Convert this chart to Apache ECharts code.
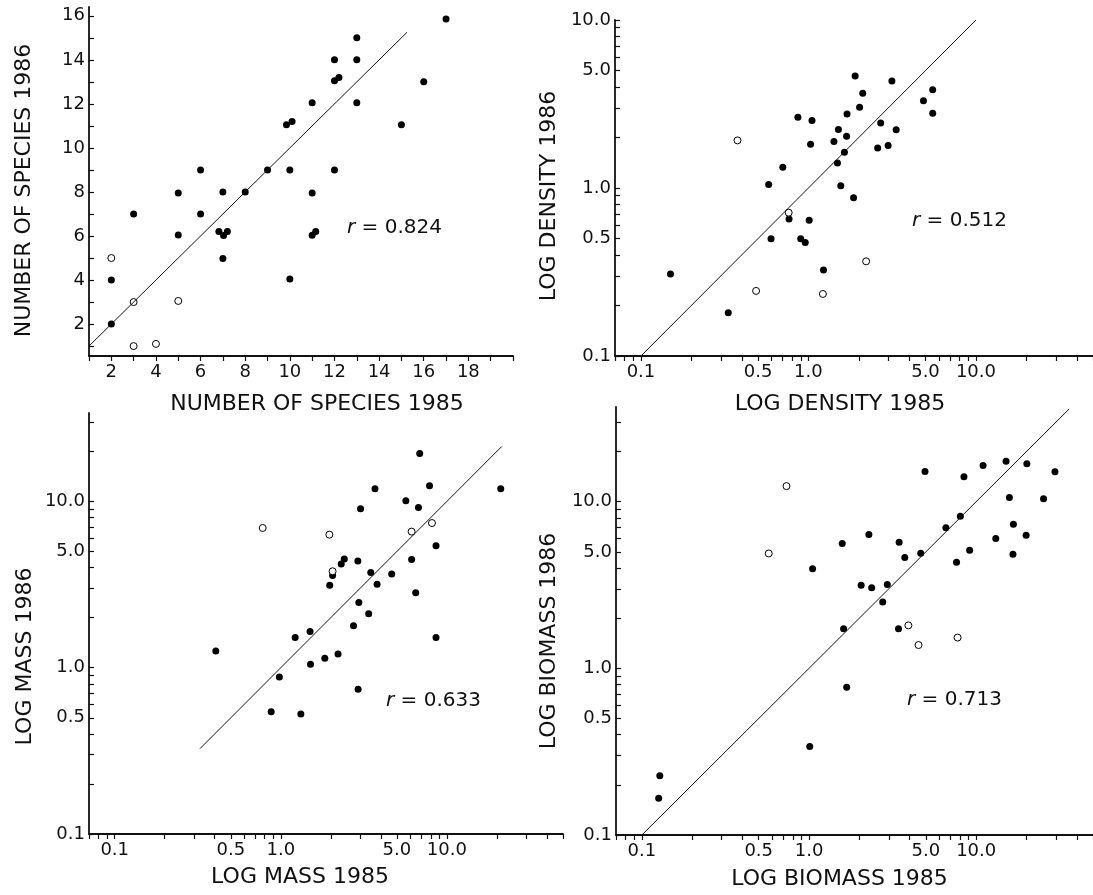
<!DOCTYPE html>
<html>
<head>
<meta charset="utf-8">
<title>1985 vs 1986: species, density, mass, biomass</title>
<script src="https://cdn.jsdelivr.net/npm/echarts@6/dist/echarts.min.js"></script>
<style>
  html, body { margin: 0; padding: 0; background: #fff; }
  #chart { width: 1093px; height: 895px; }
</style>
</head>
<body>
<div id="chart"></div>
<script>
// ---- data: [x = 1985, y = 1986] ----
var speciesFilled = [
  [17, 15.85], [13, 15], [13, 14], [12, 14], [12, 13.05], [12.2, 13.2], [16, 13],
  [11, 12.05], [13, 12.05], [9.85, 11.05], [10.1, 11.2], [15, 11.05],
  [6, 9], [9, 9], [10, 9], [12, 9], [5, 7.95], [7, 8], [8, 8], [11, 7.95],
  [3, 7], [6, 7], [5, 6.05], [6.82, 6.2], [7.2, 6.2], [7.03, 6.02], [7, 4.98],
  [11, 6.03], [11.16, 6.2], [10, 4.05], [2, 4], [2, 2]
];
var speciesOpen = [[2, 5], [3, 3], [5, 3.05], [3, 1], [4, 1.1]];
var speciesLine = [[1, 1], [15.25, 15.25]];

var densityFilled = [
  [0.150, 0.308], [0.332, 0.181], [0.579, 1.05], [0.598, 0.499], [0.703, 1.33],
  [0.766, 0.653], [0.865, 2.64], [0.899, 0.499], [0.957, 0.473], [1.01, 0.642],
  [1.03, 1.82], [1.05, 2.52], [1.23, 0.325], [1.42, 1.89], [1.49, 1.41],
  [1.51, 2.23], [1.56, 1.03], [1.64, 1.63], [1.69, 2.03], [1.70, 2.76],
  [1.86, 0.876], [1.90, 4.64], [2.02, 3.02], [2.11, 3.66], [2.59, 1.73],
  [2.70, 2.44], [2.99, 1.79], [3.15, 4.34], [3.34, 2.22], [4.86, 3.31],
  [5.52, 3.85], [5.52, 2.79]
];
var densityOpen = [[0.377, 1.92], [0.487, 0.244], [0.762, 0.713], [1.22, 0.234], [2.21, 0.366]];
var densityLine = [[0.1, 0.1], [10, 10]];

var massFilled = [
  [0.406, 1.26], [0.875, 0.544], [0.98, 0.879], [1.22, 1.52], [1.32, 0.526],
  [1.50, 1.65], [1.51, 1.05], [1.84, 1.14], [1.97, 3.13], [2.05, 3.59],
  [2.21, 1.21], [2.31, 4.20], [2.41, 4.50], [2.74, 1.79], [2.91, 4.38],
  [2.92, 0.741], [2.95, 2.47], [3.02, 9.04], [3.38, 2.11], [3.48, 3.73],
  [3.69, 11.9], [3.80, 3.18], [4.65, 3.66], [5.66, 10.1], [6.13, 4.48],
  [6.49, 2.82], [6.74, 9.2], [6.86, 19.4], [7.86, 12.4], [8.6, 5.41],
  [8.6, 1.52], [21.1, 11.9]
];
var massOpen = [[0.778, 6.92], [1.96, 6.31], [2.05, 3.80], [6.13, 6.58], [8.13, 7.41]];
var massLine = [[0.326, 0.326], [21.4, 21.4]];

var biomassFilled = [
  [0.128, 0.227], [0.126, 0.166], [1.01, 0.340], [1.05, 3.96], [1.58, 5.61],
  [1.61, 1.73], [1.68, 0.77], [2.05, 3.15], [2.28, 6.35], [2.37, 3.05],
  [2.76, 2.50], [2.94, 3.18], [3.43, 1.73], [3.46, 5.71], [3.74, 4.62],
  [4.66, 4.91], [4.94, 15.2], [6.59, 6.97], [7.63, 4.33], [8.04, 8.17],
  [8.45, 14.1], [9.14, 5.12], [11.0, 16.5], [13.1, 6.01], [15.1, 17.5],
  [15.8, 10.6], [16.6, 4.84], [16.7, 7.33], [19.9, 6.3], [20.1, 16.9],
  [25.3, 10.4], [29.6, 15.1]
];
var biomassOpen = [[0.574, 4.89], [0.733, 12.4], [3.93, 1.81], [4.52, 1.38], [7.74, 1.53]];
var biomassLine = [[0.1, 0.1], [36, 36]];

// ---- axis ticks and labels ----
var speciesTicksX = [1, 2, 3, 4, 5, 6, 7, 8, 9, 10, 11, 12, 13, 14, 15, 16, 17, 18, 19, 20];
var speciesLabelsX = [2, 4, 6, 8, 10, 12, 14, 16, 18];
var speciesTicksY = [1, 2, 3, 4, 5, 6, 7, 8, 9, 10, 11, 12, 13, 14, 15, 16];
var speciesLabelsY = [2, 4, 6, 8, 10, 12, 14, 16];
var logTicksX = [0.07, 0.08, 0.09, 0.1, 0.2, 0.3, 0.4, 0.5, 0.6, 0.7, 0.8, 0.9,
  1, 2, 3, 4, 5, 6, 7, 8, 9, 10, 20, 30, 40, 50];
var logTicksY = [0.1, 0.2, 0.3, 0.4, 0.5, 0.6, 0.7, 0.8, 0.9,
  1, 2, 3, 4, 5, 6, 7, 8, 9, 10, 20, 30];
var logLabels = [0.1, 0.5, 1, 5, 10];
var rValues = ['0.824', '0.512', '0.633', '0.713'];

var INK = '#111';
var FONT = '"DejaVu Sans", sans-serif';

var chart = echarts.init(document.getElementById('chart'), null, { renderer: 'canvas' });

function logFmt(v) { return Number(v).toFixed(1); }

function makeAxis(dim, type, grid, min, max, ticks, labels, name, nameGap, namePad, fmt) {
  var isX = dim === 'x';
  var ax = {
    type: type,
    gridIndex: grid,
    min: min,
    max: max,
    name: name,
    nameLocation: 'middle',
    nameGap: nameGap,
    nameTextStyle: { color: INK, fontSize: 22, fontFamily: FONT, padding: namePad },
    axisLine: { show: true, onZero: false, lineStyle: { color: INK, width: 1.8 } },
    axisTick: {
      show: true, inside: !isX, length: 5, customValues: ticks,
      lineStyle: { color: INK, width: 1.2 }
    },
    axisLabel: {
      customValues: labels, formatter: fmt, color: INK,
      fontSize: 18, fontFamily: FONT, margin: isX ? 7 : 4
    },
    splitLine: { show: false },
    minorTick: { show: false }
  };
  if (type === 'log') ax.logBase = 10;
  return ax;
}

function panelSeries(idx, filled, open, line) {
  return [
    {
      type: 'line', xAxisIndex: idx, yAxisIndex: idx, data: line,
      symbol: 'none', lineStyle: { color: INK, width: 1 }, silent: true
    },
    {
      type: 'scatter', xAxisIndex: idx, yAxisIndex: idx, data: filled,
      symbol: 'circle', symbolSize: 7, itemStyle: { color: '#000', opacity: 1 }, silent: true
    },
    {
      type: 'scatter', xAxisIndex: idx, yAxisIndex: idx, data: open,
      symbol: 'circle', symbolSize: 7,
      itemStyle: { color: '#fff', borderColor: '#000', borderWidth: 1, opacity: 1 }, silent: true
    }
  ];
}

var rPos = [[347, 230], [912, 223], [386, 703], [907, 702]];

var option = {
  backgroundColor: '#fff',
  animation: false,
  grid: [
    { left: 89, top: 7, width: 424, height: 349, outerBoundsMode: 'none' },
    { left: 615, top: 20, width: 478, height: 336, outerBoundsMode: 'none' },
    { left: 89, top: 413, width: 474, height: 421, outerBoundsMode: 'none' },
    { left: 616, top: 407, width: 477, height: 428, outerBoundsMode: 'none' }
  ],
  xAxis: [
    makeAxis('x', 'value', 0, 1, 20, speciesTicksX, speciesLabelsX,
      'NUMBER OF SPECIES 1985', 37, [0, 0, 0, 32], null),
    makeAxis('x', 'log', 1, 0.07, 50, logTicksX, logLabels,
      'LOG DENSITY 1985', 37, [0, 28, 0, 0], logFmt),
    makeAxis('x', 'log', 2, 0.07, 50, logTicksX, logLabels,
      'LOG MASS 1985', 32, [0, 52, 0, 0], logFmt),
    makeAxis('x', 'log', 3, 0.07, 50, logTicksX, logLabels,
      'LOG BIOMASS 1985', 33, [0, 30, 0, 0], logFmt)
  ],
  yAxis: [
    makeAxis('y', 'value', 0, 0.55, 16.4, speciesTicksY, speciesLabelsY,
      'NUMBER OF SPECIES 1986', 54, [0, 18, 0, 0], null),
    makeAxis('y', 'log', 1, 0.1, 10, logTicksY.slice(0, 19), logLabels,
      'LOG DENSITY 1986', 55, [0, 16, 0, 0], logFmt),
    makeAxis('y', 'log', 2, 0.1, 34, logTicksY, logLabels,
      'LOG MASS 1986', 53, [0, 66, 0, 0], logFmt),
    makeAxis('y', 'log', 3, 0.1, 37, logTicksY, logLabels,
      'LOG BIOMASS 1986', 56, [0, 40, 0, 0], logFmt)
  ],
  graphic: rValues.map(function (r, i) {
    return {
      type: 'text', left: rPos[i][0], top: rPos[i][1] - 12, silent: true,
      style: {
        text: '{i|r} = ' + r,
        fill: INK, font: '20px "DejaVu Sans", sans-serif',
        rich: { i: { fontStyle: 'italic', fontSize: 20, fontFamily: FONT, fill: INK } }
      }
    };
  }),
  series: []
    .concat(panelSeries(0, speciesFilled, speciesOpen, speciesLine))
    .concat(panelSeries(1, densityFilled, densityOpen, densityLine))
    .concat(panelSeries(2, massFilled, massOpen, massLine))
    .concat(panelSeries(3, biomassFilled, biomassOpen, biomassLine))
};

chart.setOption(option);
window.addEventListener('resize', function () { chart.resize(); });
</script>
</body>
</html>
